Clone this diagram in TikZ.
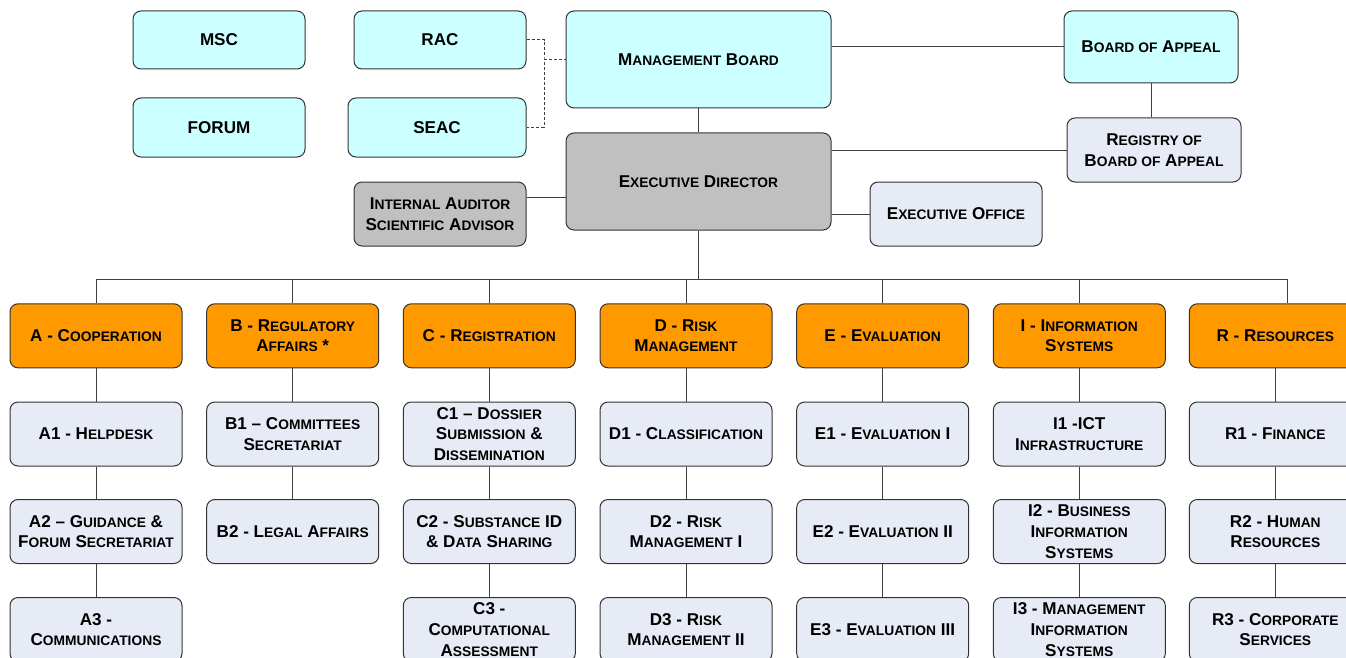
\documentclass[tikz,border=0pt]{standalone}
\usepackage{fontspec}
\setmainfont{Liberation Sans}
\usetikzlibrary{calc}
\definecolor{cyanbox}{HTML}{CCFFFF}
\definecolor{greybox}{HTML}{C0C0C0}
\definecolor{orangebox}{HTML}{FF9900}
\definecolor{palebox}{HTML}{E6EBF6}
\definecolor{bordc}{HTML}{333333}
\definecolor{linec}{HTML}{404040}
\newcommand\scx[1]{{\fontsize{13.8}{20.7}\selectfont #1}}
\tikzset{
  box/.style={draw=bordc, line width=1pt, rounded corners=8pt,
    minimum width=172pt, minimum height=64pt, inner sep=0pt,
    align=center, text=black,
    font=\bfseries\fontsize{17.1}{20.7}\selectfont},
  cbox/.style={box, fill=cyanbox},
  gbox/.style={box, fill=greybox},
  obox/.style={box, fill=orangebox},
  pbox/.style={box, fill=palebox},
  conn/.style={draw=linec, line width=1pt},
  dconn/.style={draw=linec, line width=1pt, dash pattern=on 3pt off 2pt},
}
\begin{document}
\begin{tikzpicture}[x=1pt,y=-1pt]
\useasboundingbox (0,0) rectangle (1346,658);
\clip (0,0) rectangle (1346,658);
\fill[white] (0,0) rectangle (1346,658);

% top section
\node[cbox, minimum height=58pt] (msc) at (219,40) {MSC};
\node[cbox, minimum height=59pt] (forum) at (219,127.5) {FORUM};
\node[cbox, minimum height=58pt] (rac) at (440,40) {RAC};
\node[cbox, minimum height=59pt, minimum width=178pt] (seac) at (437,127.5) {SEAC};
\node[cbox, minimum width=265pt, minimum height=97pt] (mb) at (698.5,59.5) {M\scx{ANAGEMENT} B\scx{OARD}};
\node[gbox, minimum width=265pt, minimum height=97pt] (ed) at (698.5,181.5) {E\scx{XECUTIVE} D\scx{IRECTOR}};
\node[gbox] (ia) at (440,214) {I\scx{NTERNAL} A\scx{UDITOR}\\S\scx{CIENTIFIC} A\scx{DVISOR}};
\node[cbox, minimum width=174pt, minimum height=72pt] (boa) at (1151,47) {B\scx{OARD OF} A\scx{PPEAL}};
\node[pbox, minimum width=174pt] (reg) at (1154,150) {R\scx{EGISTRY OF}\\B\scx{OARD OF} A\scx{PPEAL}};
\node[pbox] (eo) at (956,214) {E\scx{XECUTIVE} O\scx{FFICE}};

% top connectors
\coordinate (j) at (544,59.5);
\draw[dconn] (rac.east) -| (j) |- (seac.east);
\draw[dconn] (j) -- (mb.west);
\draw[conn] (mb.south) -- (ed.north);
\draw[conn] (boa.west) -- (boa.west -| mb.east);
\draw[conn] (boa.south) -- (boa.south |- reg.north);
\draw[conn] (reg.west) -- (reg.west -| ed.east);
\draw[conn] (eo.west) -- (eo.west -| ed.east);
\draw[conn] ([yshift=17pt]ia.east) -- ([yshift=17pt]ia.east -| ed.west);

% departments
\node[obox] (A) at (96,335.8) {A - C\scx{OOPERATION}};
\node[obox] (B) at (292.7,335.8) {B - R\scx{EGULATORY}\\A\scx{FFAIRS} *};
\node[obox] (C) at (489.3,335.8) {C - R\scx{EGISTRATION}};
\node[obox] (D) at (686,335.8) {D - R\scx{ISK}\\M\scx{ANAGEMENT}};
\node[obox] (E) at (882.7,335.8) {E - E\scx{VALUATION}};
\node[obox] (I) at (1079.3,335.8) {I - I\scx{NFORMATION}\\S\scx{YSTEMS}};
\node[obox] (R) at (1275.3,335.8) {R - R\scx{ESOURCES}};

\node[pbox] (A1) at (96,434) {A1 - H\scx{ELPDESK}};
\node[pbox] (A2) at (96,531.5) {A2 – G\scx{UIDANCE} \&\\F\scx{ORUM} S\scx{ECRETARIAT}};
\node[pbox] (A3) at (96,629.5) {A3 -\\C\scx{OMMUNICATIONS}};

\node[pbox] (B1) at (292.7,434) {B1 – C\scx{OMMITTEES}\\S\scx{ECRETARIAT}};
\node[pbox] (B2) at (292.7,531.5) {B2 - L\scx{EGAL} A\scx{FFAIRS}};

\node[pbox] (C1) at (489.3,434) {C1 – D\scx{OSSIER}\\S\scx{UBMISSION} \&\\D\scx{ISSEMINATION}};
\node[pbox] (C2) at (489.3,531.5) {C2 - S\scx{UBSTANCE} ID\\\& D\scx{ATA} S\scx{HARING}};
\node[pbox] (C3) at (489.3,629.5) {C3 -\\C\scx{OMPUTATIONAL}\\A\scx{SSESSMENT}};

\node[pbox] (D1) at (686,434) {D1 - C\scx{LASSIFICATION}};
\node[pbox] (D2) at (686,531.5) {D2 - R\scx{ISK}\\M\scx{ANAGEMENT} I};
\node[pbox] (D3) at (686,629.5) {D3 - R\scx{ISK}\\M\scx{ANAGEMENT} II};

\node[pbox] (E1) at (882.7,434) {E1 - E\scx{VALUATION} I};
\node[pbox] (E2) at (882.7,531.5) {E2 - E\scx{VALUATION} II};
\node[pbox] (E3) at (882.7,629.5) {E3 - E\scx{VALUATION} III};

\node[pbox] (I1) at (1079.3,434) {I1 -ICT\\I\scx{NFRASTRUCTURE}};
\node[pbox] (I2) at (1079.3,531.5) {I2 - B\scx{USINESS}\\I\scx{NFORMATION}\\S\scx{YSTEMS}};
\node[pbox] (I3) at (1079.3,629.5) {I3 - M\scx{ANAGEMENT}\\I\scx{NFORMATION}\\S\scx{YSTEMS}};

\node[pbox] (R1) at (1275.3,434) {R1 - F\scx{INANCE}};
\node[pbox] (R2) at (1275.3,531.5) {R2 - H\scx{UMAN}\\R\scx{ESOURCES}};
\node[pbox] (R3) at (1275.3,629.5) {R3 - C\scx{ORPORATE}\\S\scx{ERVICES}};

% bus
\coordinate (bus) at (0,279.5);
\coordinate (rtop) at ([xshift=12.5pt]R.north);
\draw[conn] (ed.south) -- (ed.south |- bus);
\draw[conn] (A.north) -- (A.north |- bus) -- (rtop |- bus) -- (rtop);
\foreach \n in {B,C,D,E,I} {\draw[conn] (\n.north) -- (\n.north |- bus);}

% column chains
\draw[conn] (A) -- (A1) -- (A2) -- (A3);
\draw[conn] (B) -- (B1) -- (B2);
\draw[conn] (C) -- (C1) -- (C2) -- (C3);
\draw[conn] (D) -- (D1) -- (D2) -- (D3);
\draw[conn] (E) -- (E1) -- (E2) -- (E3);
\draw[conn] (I) -- (I1) -- (I2) -- (I3);
\draw[conn] (R) -- (R1) -- (R2) -- (R3);
\end{tikzpicture}
\end{document}
